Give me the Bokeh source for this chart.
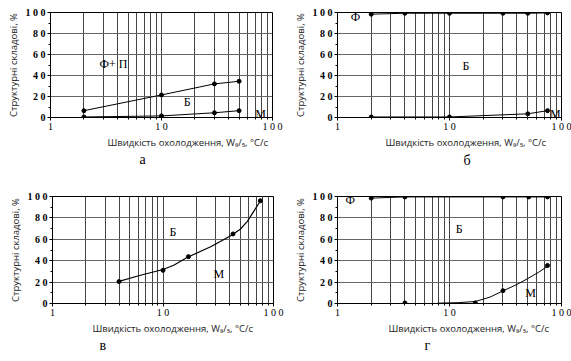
from bokeh.plotting import figure
from bokeh.layouts import column, row
from bokeh.models import Range1d, FixedTicker, Title
from bokeh.core.properties import value
from bokeh.embed import file_html
from bokeh.resources import INLINE

# ---- shared axis texts ----
X_TICK_LABELS = {1: "1", 10: "1 0", 100: "1 0 0"}
Y_TICKS = [0, 20, 40, 60, 80, 100]
Y_MINOR = [10, 30, 50, 70, 90]
Y_TICK_LABELS = {0: "0", 20: "2 0", 40: "4 0", 60: "6 0", 80: "8 0", 100: "1 0 0"}
Y_LABEL = "Структурні складові, %"
X_LABEL = "Швидкість охолодження, W₈/₅, °C/c"
CAPTIONS = ["а", "б", "в", "г"]

# ---- panel а ----
a_upper_x = [2, 10, 30, 50]
a_upper_y = [6.5, 21.5, 32, 34.5]
a_lower_x = [2, 10, 30, 50]
a_lower_y = [0.5, 1.5, 4.5, 6.5]
a_texts = ["Ф+ П", "Б", "М"]
a_text_x = [3.7, 17, 78]
a_text_y = [51, 15, 3]

# ---- panel б ----
b_upper_x = [2, 4, 10, 30, 50, 75]
b_upper_y = [98.4, 99.3, 99.3, 99.3, 99.3, 99.6]
b_lower_x = [2, 10, 50, 75]
b_lower_y = [0.5, 0.5, 3.5, 6.5]
b_texts = ["Ф", "Б", "М"]
b_text_x = [1.45, 14, 88]
b_text_y = [96, 49, 3.5]

# ---- panel в ----
c_pts_x = [4, 10, 17, 43, 76]
c_pts_y = [20.5, 31, 43.8, 65, 96]
c_curve_x = [4, 6.25, 10, 12.5, 16.5, 27, 33, 41, 50, 58, 66, 76]
c_curve_y = [20.7, 26.4, 31.8, 35.8, 43, 53, 57.9, 63.3, 69.4, 76.8, 85.9, 95.8]
c_texts = ["Б", "М"]
c_text_x = [12.3, 32]
c_text_y = [67, 28]

# ---- panel г ----
d_upper_x = [2, 4, 30, 51, 75]
d_upper_y = [98.5, 99.6, 99.6, 99.6, 99.6]
d_lower_x = [4, 17, 30, 75]
d_lower_y = [0.5, 0.6, 12, 35.5]
d_curve_x = [7.8, 12, 17.1, 23, 30.5, 40, 49.4, 62, 77]
d_curve_y = [0.3, 0.8, 1.9, 6, 12.1, 17.8, 23, 29, 35.5]
d_texts = ["Ф", "Б", "М"]
d_text_x = [1.3, 12.2, 53]
d_text_y = [97, 70, 10]

SERIF = "Liberation Serif"
SANS = "Open Sans"


def make_panel(caption, w, h, left, right, top, bottom,
               xlab_off, cap_off, cap_standoff):
    p = figure(width=w, height=h, x_axis_type="log",
               x_range=Range1d(1, 100), y_range=Range1d(0, 100),
               output_backend="svg", toolbar_location=None,
               min_border_left=left, min_border_right=right,
               min_border_top=top, min_border_bottom=bottom)
    p.background_fill_color = "white"
    p.border_fill_color = "white"
    p.outline_line_color = "black"
    p.outline_line_width = 1

    p.yaxis.ticker = FixedTicker(ticks=Y_TICKS, minor_ticks=Y_MINOR)
    p.yaxis.major_label_overrides = Y_TICK_LABELS
    p.xaxis.major_label_overrides = X_TICK_LABELS
    p.ygrid.ticker = FixedTicker(ticks=Y_TICKS)

    for ax in (p.xaxis[0], p.yaxis[0]):
        ax.axis_line_color = "black"
        ax.major_tick_line_color = "black"
        ax.minor_tick_line_color = "black"
        ax.major_tick_in = 0
        ax.major_tick_out = 3
        ax.minor_tick_in = 0
        ax.minor_tick_out = 2
        ax.major_label_text_font = SERIF
        ax.major_label_text_font_size = "10px"
        ax.major_label_text_color = "black"
        ax.axis_label_text_font = SANS
        ax.axis_label_text_font_size = "9.5px"
        ax.axis_label_text_font_style = "normal"
        ax.axis_label_text_color = "#222222"
        ax.axis_label_standoff = 3
        ax.major_label_standoff = 2
    p.xaxis.major_label_standoff = 0
    p.yaxis.major_label_text_font_style = "bold"
    p.yaxis.axis_label = Y_LABEL

    p.xgrid.grid_line_color = "#444444"
    p.xgrid.minor_grid_line_color = "#444444"
    p.xgrid.grid_line_width = 1
    p.xgrid.minor_grid_line_width = 1
    p.ygrid.grid_line_color = "#666666"
    p.ygrid.grid_line_width = 1

    p.add_layout(Title(text=X_LABEL, align="left", offset=xlab_off,
                       vertical_align="middle", standoff=0,
                       text_font=SANS, text_font_size="9.5px",
                       text_font_style="normal", text_color="#222222"),
                 "below")
    p.add_layout(Title(text=caption, align="left", offset=cap_off,
                       vertical_align="bottom", standoff=cap_standoff,
                       text_font=SERIF, text_font_size="14px",
                       text_font_style="normal", text_color="black"),
                 "below")
    return p


def add_texts(p, txt, xs, ys):
    p.text(x=xs, y=ys, text=txt, text_font=value(SERIF),
           text_font_size="12px", text_align="center",
           text_baseline="middle", text_color="black")


MS = 4

# а
pa = make_panel(CAPTIONS[0], 285, 180, 50, 13, 12, 60, 57, 89, 0)
pa.line(a_upper_x, a_upper_y, line_color="black", line_width=1)
pa.line(a_lower_x, a_lower_y, line_color="black", line_width=1)
pa.scatter(a_upper_x, a_upper_y, size=MS, color="black")
pa.scatter(a_lower_x, a_lower_y, size=MS, color="black")
add_texts(pa, a_texts, a_text_x, a_text_y)

# б
pb = make_panel(CAPTIONS[1], 286, 180, 52, 10, 11, 63, 48, 126, 2)
pb.line(b_upper_x, b_upper_y, line_color="black", line_width=1)
pb.line(b_lower_x, b_lower_y, line_color="black", line_width=1)
pb.scatter(b_upper_x, b_upper_y, size=MS, color="black")
pb.scatter(b_lower_x, b_lower_y, size=MS, color="black")
add_texts(pb, b_texts, b_text_x, b_text_y)

# в
pc = make_panel(CAPTIONS[2], 285, 181, 52, 12, 16, 55, 40, 47, 0)
pc.line(c_curve_x, c_curve_y, line_color="black", line_width=1.2)
pc.scatter(c_pts_x, c_pts_y, size=MS, color="black")
add_texts(pc, c_texts, c_text_x, c_text_y)

# г
pd = make_panel(CAPTIONS[3], 286, 181, 52, 10, 16, 58, 51, 87, 0)
pd.line(d_upper_x, d_upper_y, line_color="black", line_width=1)
pd.line(d_curve_x, d_curve_y, line_color="black", line_width=1)
pd.scatter(d_upper_x, d_upper_y, size=MS, color="black")
pd.scatter(d_lower_x, d_lower_y, size=MS, color="black")
add_texts(pd, d_texts, d_text_x, d_text_y)

layout = column(row(pa, pb), row(pc, pd))
open("out.html", "w").write(file_html(layout, INLINE))
